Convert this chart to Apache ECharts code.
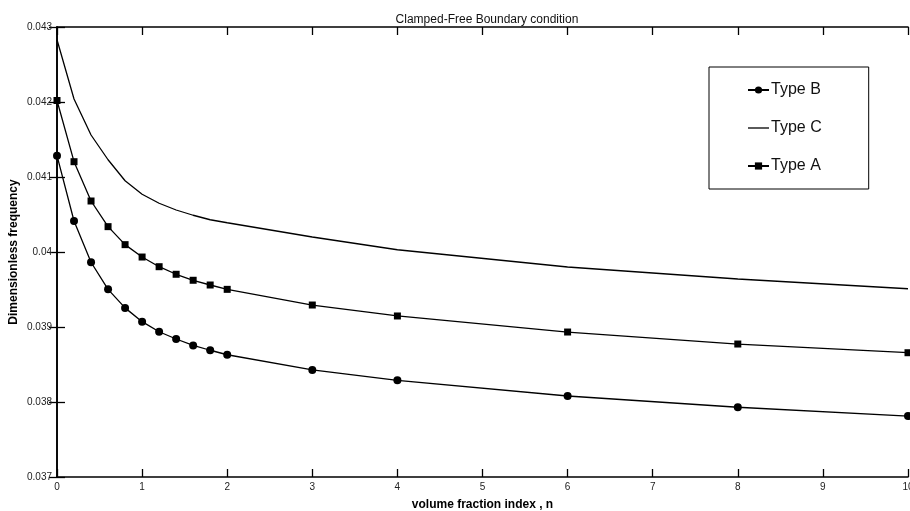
<!DOCTYPE html>
<html>
<head>
<meta charset="utf-8">
<script src="https://cdn.jsdelivr.net/npm/echarts@6/dist/echarts.min.js"></script>
<style>
  html, body { margin: 0; padding: 0; background: #fff; }
  #chart { width: 910px; height: 511px; }
</style>
</head>
<body>
<div id="chart"></div>
<script>
(function() {
  var ink = '#000';
  var font = '"Liberation Sans", Arial, sans-serif';

  // volume fraction index n
  var nValues = [0, 0.2, 0.4, 0.6, 0.8, 1.0, 1.2, 1.4, 1.6, 1.8, 2.0, 3, 4, 6, 8, 10];
  var typeB = [0.041284, 0.040413, 0.039863, 0.039502, 0.039255, 0.039071, 0.038937, 0.038840,
               0.038755, 0.038690, 0.038630, 0.038427, 0.038289, 0.038080, 0.037930, 0.037813];
  var typeC = [0.04283, 0.04204, 0.04156, 0.04123, 0.04095, 0.04077, 0.04065, 0.04056,
               0.04049, 0.04043, 0.04039, 0.04020, 0.04003, 0.03980, 0.03964, 0.03951];
  var typeA = [0.04202, 0.041204, 0.04068, 0.040338, 0.040098, 0.039933, 0.039804, 0.039703,
               0.039623, 0.039560, 0.039502, 0.039293, 0.039147, 0.038933, 0.038773, 0.038657];

  function pairs(ys) {
    return nValues.map(function(x, i) { return [x, ys[i]]; });
  }

  var axisLine = { show: true, lineStyle: { color: ink, width: 1.6 } };
  var tick = { show: true, inside: true, length: 8, lineStyle: { color: ink, width: 1.3 } };

  var chart = echarts.init(document.getElementById('chart'), null, { renderer: 'canvas' });
  chart.setOption({
    animation: false,
    backgroundColor: '#fff',
    title: {
      text: 'Clamped-Free Boundary condition',
      left: 482, top: 9, textAlign: 'center',
      textStyle: { fontFamily: font, fontSize: 12, fontWeight: 'normal', color: '#111' }
    },
    legend: {
      data: ['Type B', { name: 'Type C', icon: 'path://M0,0 L21,0 L21,1.3 L0,1.3 Z' }, 'Type A'],
      orient: 'vertical',
      left: 709, top: 67,
      padding: [15, 47, 15, 38],
      itemGap: 22,
      itemWidth: 21,
      itemHeight: 9,
      borderColor: ink,
      borderWidth: 1,
      textStyle: { fontFamily: font, fontSize: 16, color: '#111', padding: [0, 0, 0, -3] }
    },
    grid: { left: 57, right: 2, top: 27, bottom: 34, outerBoundsMode: 'none', containLabel: false },
    xAxis: [{
      type: 'value', min: 0, max: 10, interval: 1,
      name: 'volume fraction index , n',
      nameLocation: 'middle', nameGap: 22,
      nameTextStyle: { fontFamily: font, fontSize: 12, fontWeight: 'bold', color: ink },
      axisLine: axisLine, axisTick: tick,
      axisLabel: { fontFamily: font, fontSize: 10, color: '#222', margin: 5 },
      splitLine: { show: false }
    }, {
      type: 'value', min: 0, max: 10, interval: 1, position: 'top',
      axisLine: axisLine, axisTick: tick,
      axisLabel: { show: false }, splitLine: { show: false }
    }],
    yAxis: [{
      type: 'value', min: 0.037, max: 0.043, interval: 0.001,
      name: 'Dimensionless frequency',
      nameLocation: 'middle', nameGap: 37, nameMoveOverlap: false,
      nameTextStyle: { fontFamily: font, fontSize: 12, fontWeight: 'bold', color: ink },
      axisLine: axisLine, axisTick: tick,
      axisLabel: { fontFamily: font, fontSize: 10, color: '#222', margin: 5 },
      splitLine: { show: false }
    }, {
      type: 'value', min: 0.037, max: 0.043, interval: 0.001, position: 'right',
      axisLine: axisLine, axisTick: tick,
      axisLabel: { show: false }, splitLine: { show: false }
    }],
    series: [{
      name: 'Type B', type: 'line', data: pairs(typeB),
      symbol: 'circle', symbolSize: 8,
      lineStyle: { color: ink, width: 1.3 },
      itemStyle: { color: ink }
    }, {
      name: 'Type C', type: 'line', data: pairs(typeC),
      symbol: 'none',
      lineStyle: { color: ink, width: 1.3 },
      itemStyle: { color: ink }
    }, {
      name: 'Type A', type: 'line', data: pairs(typeA),
      symbol: 'rect', symbolSize: 7,
      lineStyle: { color: ink, width: 1.3 },
      itemStyle: { color: ink }
    }]
  });
  window.addEventListener('resize', function() { chart.resize(); });
})();
</script>
</body>
</html>
